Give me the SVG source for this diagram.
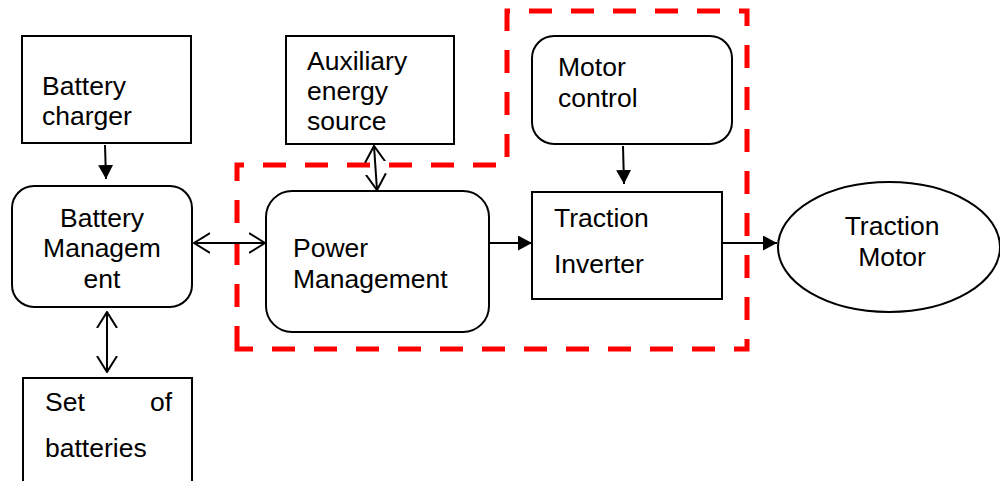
<svg xmlns="http://www.w3.org/2000/svg" width="1000" height="481" viewBox="0 0 1000 481">
<defs>
<style>
.box{fill:#fff;stroke:#000;stroke-width:2}
.t{font-family:"Liberation Sans",Arial,sans-serif;font-size:26.5px;fill:#000}
.c{stroke:#000;stroke-width:2;fill:none}
.dash{fill:none;stroke:#ff0000;stroke-width:5;stroke-dasharray:23 19}
</style>
<marker id="fa" viewBox="0 0 14 15" refX="14" refY="7.5" markerWidth="14" markerHeight="15" markerUnits="userSpaceOnUse" orient="auto">
<path d="M0,0 L14,7.5 L0,15 Z" fill="#000"/>
</marker>
<marker id="oa" viewBox="0 0 17 22" refX="16" refY="11" markerWidth="17" markerHeight="22" markerUnits="userSpaceOnUse" orient="auto-start-reverse">
<path d="M0,1 L16,11 L0,21" fill="none" stroke="#000" stroke-width="2"/>
</marker>
</defs>
<rect width="1000" height="481" fill="#fff"/>
<g id="boundary">
<path class="dash" d="M237,349 L237,165 L507,165 L507,11 L747,11 L747,349 Z"/>
</g>
<g id="battery-charger">
<rect class="box" x="22" y="36" width="169" height="107"/>
<text class="t" x="42" y="95">Battery</text>
<text class="t" x="42" y="125">charger</text>
</g>
<g id="battery-management">
<rect class="box" x="12" y="186" width="180" height="121" rx="22"/>
<text class="t" x="102" y="227" text-anchor="middle">Battery</text>
<text class="t" x="102" y="257" text-anchor="middle">Managem</text>
<text class="t" x="102" y="288" text-anchor="middle">ent</text>
</g>
<g id="set-of-batteries">
<rect class="box" x="23" y="378" width="169" height="120"/>
<text class="t" x="45" y="411">Set</text>
<text class="t" x="172" y="411" text-anchor="end">of</text>
<text class="t" x="45" y="457">batteries</text>
</g>
<g id="auxiliary-energy-source">
<rect class="box" x="286" y="36" width="168" height="108"/>
<text class="t" x="307" y="70">Auxiliary</text>
<text class="t" x="307" y="100">energy</text>
<text class="t" x="307" y="130">source</text>
</g>
<g id="power-management">
<rect class="box" x="266" y="191" width="223" height="141" rx="26"/>
<text class="t" x="293" y="257">Power</text>
<text class="t" x="293" y="288">Management</text>
</g>
<g id="motor-control">
<rect class="box" x="532" y="36" width="200" height="108" rx="22"/>
<text class="t" x="558" y="76">Motor</text>
<text class="t" x="558" y="107">control</text>
</g>
<g id="traction-inverter">
<rect class="box" x="532" y="192" width="190" height="107"/>
<text class="t" x="554" y="227">Traction</text>
<text class="t" x="554" y="273">Inverter</text>
</g>
<g id="traction-motor">
<ellipse class="box" cx="889" cy="247" rx="111" ry="65"/>
<text class="t" x="892" y="235" text-anchor="middle">Traction</text>
<text class="t" x="892" y="266" text-anchor="middle">Motor</text>
</g>
<g id="connectors">
<line class="c" x1="105" y1="145" x2="106" y2="179" marker-end="url(#fa)"/>
<line class="c" x1="194" y1="243" x2="265" y2="243" marker-start="url(#oa)" marker-end="url(#oa)"/>
<line class="c" x1="107" y1="312" x2="107" y2="372" marker-start="url(#oa)" marker-end="url(#oa)"/>
<line class="c" x1="374" y1="146" x2="377" y2="190" marker-start="url(#oa)" marker-end="url(#oa)"/>
<line class="c" x1="623" y1="146" x2="624" y2="184" marker-end="url(#fa)"/>
<line class="c" x1="489" y1="243" x2="532" y2="243" marker-end="url(#fa)"/>
<line class="c" x1="722" y1="243" x2="777" y2="243" marker-end="url(#fa)"/>
</g>
</svg>
